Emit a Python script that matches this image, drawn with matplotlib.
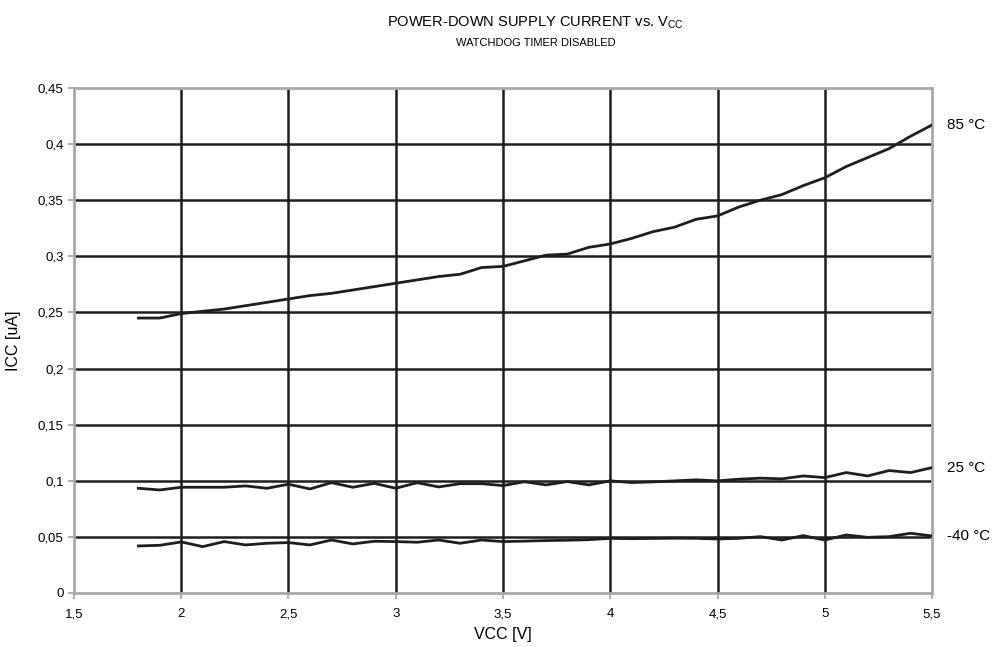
import matplotlib
matplotlib.use("Agg")
import matplotlib.pyplot as plt
from matplotlib.ticker import FuncFormatter

plt.rcParams['font.family'] = ['Liberation Sans', 'DejaVu Sans']

# supply voltage [V]
vcc = [1.8, 1.9, 2.0, 2.1, 2.2, 2.3, 2.4, 2.5, 2.6, 2.7, 2.8, 2.9, 3.0, 3.1, 3.2,
       3.3, 3.4, 3.5, 3.6, 3.7, 3.8, 3.9, 4.0, 4.1, 4.2, 4.3, 4.4, 4.5, 4.6, 4.7,
       4.8, 4.9, 5.0, 5.1, 5.2, 5.3, 5.4, 5.5]

# power-down current [uA]
icc_85 = [0.245, 0.245, 0.249, 0.251, 0.253, 0.256, 0.259, 0.262, 0.265, 0.267,
          0.270, 0.273, 0.276, 0.279, 0.282, 0.284, 0.290, 0.291, 0.296, 0.301,
          0.302, 0.308, 0.311, 0.316, 0.322, 0.326, 0.333, 0.336, 0.344, 0.350,
          0.355, 0.363, 0.370, 0.380, 0.388, 0.396, 0.407, 0.417]
icc_25 = [0.0933, 0.0918, 0.0942, 0.0942, 0.0942, 0.0954, 0.0933, 0.0969, 0.0927, 0.0983,
          0.0942, 0.0977, 0.0933, 0.0983, 0.0945, 0.0974, 0.0974, 0.0957, 0.0991, 0.0963,
          0.0993, 0.0963, 0.0999, 0.0984, 0.0990, 0.0999, 0.1008, 0.0999, 0.1014, 0.1023,
          0.1017, 0.1043, 0.1028, 0.1073, 0.1043, 0.1091, 0.1073, 0.1117]
icc_m40 = [0.0419, 0.0425, 0.0455, 0.0413, 0.0458, 0.0428, 0.0443, 0.0449, 0.0428, 0.0472,
           0.0437, 0.0461, 0.0458, 0.0452, 0.0472, 0.0443, 0.0472, 0.0458, 0.0462, 0.0467,
           0.0470, 0.0475, 0.0487, 0.0484, 0.0486, 0.0488, 0.0487, 0.0481, 0.0487, 0.0502,
           0.0472, 0.0511, 0.0472, 0.0517, 0.0496, 0.0502, 0.0532, 0.0508]

series = [(icc_85, '85 °C'), (icc_25, '25 °C'), (icc_m40, '-40 °C')]

x_ticks = [1.5, 2, 2.5, 3, 3.5, 4, 4.5, 5, 5.5]
y_ticks = [0, 0.05, 0.1, 0.15, 0.2, 0.25, 0.3, 0.35, 0.4, 0.45]

fig = plt.figure(figsize=(10, 6.47), dpi=100)
ax = fig.add_axes([0.074, 0.0835, 0.858, 0.7805])

# grid lines (dark), border kept gray
for xv in x_ticks[1:-1]:
    ax.axvline(xv, color='#1e1e1e', lw=1.8, zorder=1)
for yv in y_ticks[1:-1]:
    ax.axhline(yv, color='#1e1e1e', lw=1.8, zorder=1)

for vals, lab in series:
    ax.plot(vcc, vals, color='#1e1e1e', lw=2.0, zorder=3)
    ax.text(5.57, vals[-1], lab, fontsize=11, va='center', ha='left', clip_on=False)

ax.set_xlim(1.5, 5.5)
ax.set_ylim(0, 0.45)
ax.set_xticks(x_ticks)
ax.set_yticks(y_ticks)

comma = FuncFormatter(lambda v, p: ('%g' % v).replace('.', ','))
ax.xaxis.set_major_formatter(comma)
ax.yaxis.set_major_formatter(comma)
ax.tick_params(axis='both', labelsize=9.5, color='#a0a0a0', length=4, width=1.2)
ax.tick_params(axis='x', pad=7)

for side in ['left', 'right', 'top', 'bottom']:
    ax.spines[side].set_color('#a8a8a8')
    ax.spines[side].set_linewidth(2)

ax.set_xlabel('VCC [V]', fontsize=11.5, labelpad=5)
ax.set_ylabel('ICC [uA]', fontsize=11.5, labelpad=12)

fig.text(0.535, 0.965, 'POWER-DOWN SUPPLY CURRENT vs. V$_{\\mathregular{CC}}$',
         ha='center', va='center', fontsize=10.5)
fig.text(0.536, 0.934, 'WATCHDOG TIMER DISABLED', ha='center', va='center', fontsize=8)

fig.savefig('out.png', dpi=100)
